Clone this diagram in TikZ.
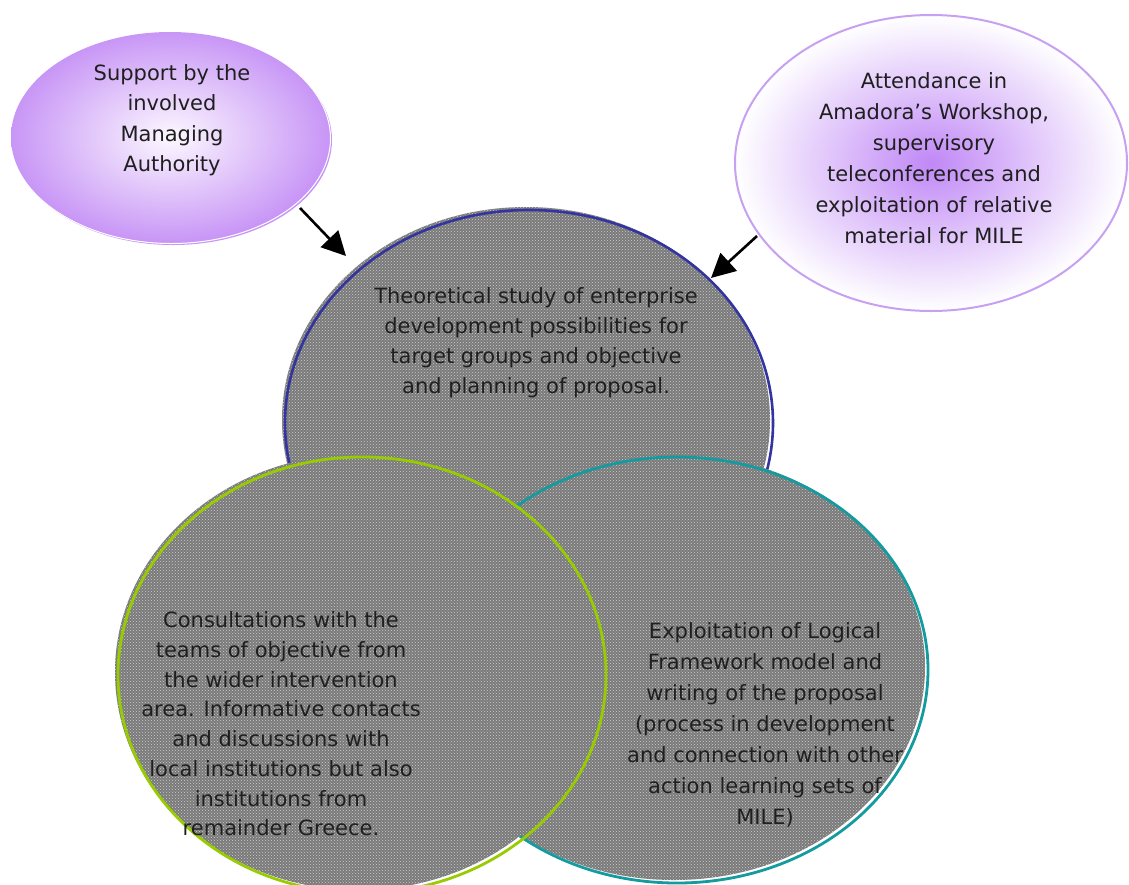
\documentclass[tikz,border=0pt]{standalone}
\usepackage{fontspec}
\setmainfont{DejaVu Sans}
\usetikzlibrary{shapes.geometric,arrows.meta,patterns}

\definecolor{lilac}{RGB}{200,150,246}
\definecolor{lilaccore}{RGB}{252,248,255}
\definecolor{lavline}{RGB}{200,160,242}
\definecolor{violetcore}{RGB}{192,136,246}
\definecolor{ringblue}{RGB}{52,52,160}
\definecolor{ringteal}{RGB}{20,155,160}
\definecolor{ringgreen}{RGB}{153,204,0}
\definecolor{hatchbase}{RGB}{122,122,122}
\definecolor{hatchdot}{RGB}{205,205,205}

\begin{document}
\begin{tikzpicture}[x=1pt,y=-1pt,
  bubble/.style={ellipse, inner sep=0pt},
  txt/.style={align=center, text=black!88, font=\fontsize{21}{30}\selectfont},
  pointer/.style={line width=2.6pt, -{Triangle[length=24pt,width=24pt]}},
  hatch/.style={fill=hatchbase, postaction={pattern=crosshatch dots, pattern color=hatchdot}}]
\useasboundingbox (0,0) rectangle (1129,884);

% support bubble, upper left, with its soft drop edge
\fill[lilac] (173,140) ellipse [x radius=159, y radius=105];
\draw[white, line width=1pt] (171.5,138.5) ellipse [x radius=159, y radius=105];
\node[bubble, minimum width=318, minimum height=210,
      inner color=lilaccore, outer color=lilac] (support) at (170,137) {};

% attendance bubble, upper right
\node[bubble, draw=lavline, line width=2pt, minimum width=392, minimum height=296,
      inner color=violetcore, outer color=white] (attend) at (931,163) {};

% the three hatched discs: study (top), proposal (right), consultations (left)
\fill[hatch] (526,420) ellipse [x radius=244, y radius=213];
\node[bubble, draw=ringblue, line width=2.6pt, minimum width=488, minimum height=426] (study) at (529,423) {};

\fill[hatch] (674,667) ellipse [x radius=251, y radius=213];
\node[bubble, draw=ringteal, line width=2.8pt, minimum width=502, minimum height=426] (proposal) at (677,670) {};

\fill[hatch] (359,672) ellipse [x radius=244, y radius=218];
\node[bubble, draw=ringgreen, line width=2.8pt, minimum width=488, minimum height=436] (consult) at (362,675) {};

% labels
\node[txt, font=\fontsize{21}{30.5}\selectfont] (supporttxt) at (172,120) {Support by the\\involved\\Managing\\Authority};
\node[txt, font=\fontsize{21}{31}\selectfont] (attendtxt) at (934,158)
  {Attendance in\\Amadora's Workshop,\\supervisory\\teleconferences and\\exploitation of relative\\material for MILE};
\node[txt] (studytxt) at (536,343)
  {Theoretical study of enterprise\\development possibilities for\\target groups and objective\\and planning of proposal.};
\node[txt, font=\fontsize{21}{29.7}\selectfont] (consulttxt) at (281,724)
  {Consultations with the\\teams of objective from\\the wider intervention\\area. Informative contacts\\and discussions with\\local institutions but also\\institutions from\\remainder Greece.};
\node[txt, font=\fontsize{21}{31}\selectfont] (proposaltxt) at (765,725)
  {Exploitation of Logical\\Framework model and\\writing of the proposal\\(process in development\\and connection with other\\action learning sets of\\MILE)};

% arrows into the study disc
\coordinate (tailA) at (300,208);
\coordinate (tipA) at (346,256);
\coordinate (tailB) at (757,236);
\coordinate (tipB) at (711,278);
\draw[pointer] (tailA) -- (tipA);
\draw[pointer] (tailB) -- (tipB);
\end{tikzpicture}
\end{document}
